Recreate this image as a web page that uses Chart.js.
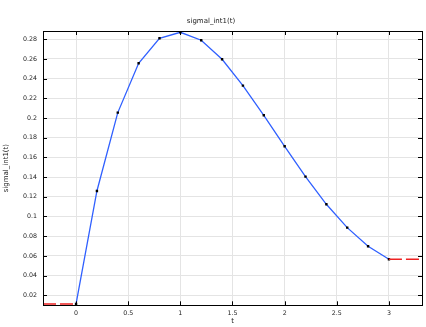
<!DOCTYPE html>
<html>
<head>
<meta charset="utf-8">
<script src="https://cdn.jsdelivr.net/npm/chart.js@4/dist/chart.umd.min.js"></script>
<style>
    html, body { margin: 0; padding: 0; background: #fff; }
    #wrap { width: 426px; height: 327px; }
</style>
</head>
<body>
<div id="wrap"><canvas id="sigmaChart"></canvas></div>
<script>
// sample points of the interpolation function
const tValues = [0, 0.2, 0.4, 0.6, 0.8, 1.0, 1.2, 1.4, 1.6, 1.8, 2.0, 2.2, 2.4, 2.6, 2.8, 3.0];
const sigmaValues = [0.0112, 0.1259, 0.2055, 0.2556, 0.2810, 0.2871, 0.2790, 0.2597, 0.2329,
                     0.2028, 0.1713, 0.1405, 0.1124, 0.0887, 0.0698, 0.0566];

// axis ranges
const tRange = [-0.317, 3.317];
const sigmaRange = [0.0098, 0.2884];

const FONT = 'DejaVu Sans';

function fmtTick(value) {
    return String(parseFloat(value.toFixed(2)));
}

// inner tick marks on all four sides + frame
const frameTicks = {
    id: 'frameTicks',
    afterDraw(chart) {
        const { ctx, chartArea: a, scales } = chart;
        const len = 4;
        ctx.save();
        ctx.strokeStyle = '#000';
        ctx.lineWidth = 1;
        ctx.beginPath();
        scales.x.ticks.forEach(t => {
            const px = Math.round(scales.x.getPixelForValue(t.value)) + 0.5;
            ctx.moveTo(px, a.bottom); ctx.lineTo(px, a.bottom - len);
            ctx.moveTo(px, a.top); ctx.lineTo(px, a.top + len);
        });
        scales.y.ticks.forEach(t => {
            const py = Math.round(scales.y.getPixelForValue(t.value)) + 0.5;
            ctx.moveTo(a.left, py); ctx.lineTo(a.left + len, py);
            ctx.moveTo(a.right, py); ctx.lineTo(a.right - len, py);
        });
        ctx.stroke();
        ctx.strokeRect(Math.round(a.left) + 0.5, Math.round(a.top) + 0.5,
                       Math.round(a.right - a.left), Math.round(a.bottom - a.top));
        ctx.restore();
    }
};

const curve = tValues.map((t, i) => ({ x: t, y: sigmaValues[i] }));
const leftExtrap = [
    { x: tRange[0], y: sigmaValues[0] },
    { x: tValues[0], y: sigmaValues[0] }
];
const rightExtrap = [
    { x: tValues[tValues.length - 1], y: sigmaValues[sigmaValues.length - 1] },
    { x: tRange[1], y: sigmaValues[sigmaValues.length - 1] }
];

const ctx = document.getElementById('sigmaChart').getContext('2d');
new Chart(ctx, {
    type: 'line',
    data: {
        datasets: [
            {
                data: leftExtrap,
                borderColor: '#ee2222',
                borderWidth: 1.5,
                borderDash: [13, 4],
                pointRadius: 0
            },
            {
                data: rightExtrap,
                borderColor: '#ee2222',
                borderWidth: 1.5,
                borderDash: [13, 4],
                pointRadius: 0
            },
            {
                data: curve,
                borderColor: '#3060ff',
                borderWidth: 1.3,
                tension: 0,
                pointStyle: 'rect',
                pointRadius: 1.7,
                pointBackgroundColor: '#000',
                pointBorderColor: '#000',
                pointBorderWidth: 0
            }
        ]
    },
    options: {
        responsive: true,
        maintainAspectRatio: false,
        animation: false,
        layout: { padding: { left: 0, right: 4, top: 0, bottom: 0 } },
        scales: {
            x: {
                type: 'linear',
                min: tRange[0],
                max: tRange[1],
                afterFit: s => { s.height = 21.7; },
                ticks: {
                    stepSize: 0.5,
                    includeBounds: false,
                    maxRotation: 0,
                    padding: 4,
                    color: '#222',
                    font: { family: FONT, size: 6.3 },
                    callback: v => fmtTick(v)
                },
                grid: { color: '#e4e4e4', drawTicks: false },
                border: { display: false },
                title: {
                    display: true,
                    text: 't',
                    color: '#222',
                    font: { family: FONT, size: 7 },
                    padding: { top: 0, bottom: 1.3 }
                }
            },
            y: {
                type: 'linear',
                min: sigmaRange[0],
                max: sigmaRange[1],
                afterFit: s => { s.width = 43; },
                ticks: {
                    stepSize: 0.02,
                    includeBounds: false,
                    padding: 6,
                    color: '#222',
                    font: { family: FONT, size: 6.3 },
                    callback: v => fmtTick(v)
                },
                grid: { color: '#e4e4e4', drawTicks: false },
                border: { display: false },
                title: {
                    display: true,
                    text: 'sigmal_int1(t)',
                    color: '#222',
                    font: { family: FONT, size: 7 },
                    padding: { top: 1.8, bottom: 0 }
                }
            }
        },
        plugins: {
            legend: { display: false },
            tooltip: { enabled: false },
            title: {
                display: true,
                text: 'sigmal_int1(t)',
                color: '#222',
                font: { family: FONT, size: 7, weight: 'normal' },
                padding: { top: 17, bottom: 5.6 }
            }
        }
    },
    plugins: [frameTicks]
});
</script>
</body>
</html>
